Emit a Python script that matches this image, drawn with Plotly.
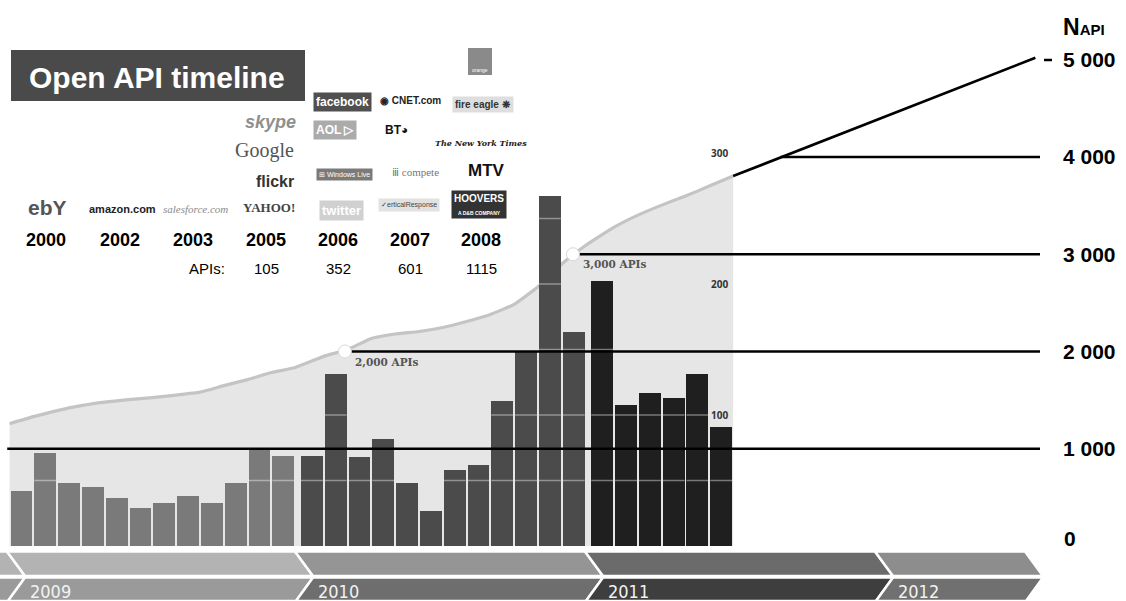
import plotly.graph_objects as go

# ---------------- data ----------------
new_apis_2009 = [42, 71, 48, 45, 37, 29, 33, 38, 33, 48, 75, 69]
new_apis_2010 = [69, 131, 68, 82, 48, 27, 58, 62, 111, 148, 267, 163]
new_apis_2011 = [202, 108, 117, 113, 131, 91]

# cumulative number of APIs at start of Jan 2009 and at the end of every month
cumulative_apis = [1258, 1330, 1392, 1443, 1479, 1505, 1526, 1552, 1582, 1649, 1711, 1784,
                   1835, 1950, 2020, 2134, 2180, 2206, 2247, 2309, 2381, 2485, 2665, 2900,
                   3090, 3278, 3402, 3505, 3598, 3701, 3804]

projection_end_month = 42.6
projection_end_apis = 5020

milestone_values = [1000, 2000, 3000, 4000]
milestone_from_month = [-0.6, 13.59, 23.17, 31.9]
labeled_milestones = [2000, 3000]
labeled_milestone_month = [13.59, 23.17]
labeled_milestone_text = ["2,000 APIs", "3,000 APIs"]

right_tick_values = [1000, 2000, 3000, 4000, 5000]
right_tick_labels = ["1 000", "2 000", "3 000", "4 000", "5 000"]
bar_tick_values = [100, 200, 300]
bar_grid_levels = [50, 100, 150, 200, 250]

history_years = ["2000", "2002", "2003", "2005", "2006", "2007", "2008"]
history_apis = ["", "", "APIs:", "105", "352", "601", "1115"]
timeline_years = ["2009", "2010", "2011", "2012"]

# ---------------- geometry helpers ----------------
W, H = 1126, 601
PLOT_L, PLOT_R, PLOT_T, PLOT_B = 0, 1040, 30, 546
PX_PER_MONTH = 23.8
FIRST_CENTER_PX = 21.5
CUM_PX_PER_UNIT = 0.09725
BAR_PX_PER_UNIT = 1.31

X0 = (PLOT_L - FIRST_CENTER_PX) / PX_PER_MONTH
X_END = (PLOT_R - FIRST_CENTER_PX) / PX_PER_MONTH
CUM_TOP = (PLOT_B - PLOT_T) / CUM_PX_PER_UNIT
BAR_TOP = (PLOT_B - PLOT_T) / BAR_PX_PER_UNIT


def xp(px):
    return (px - PLOT_L) / (PLOT_R - PLOT_L)


def yp(py):
    return (PLOT_B - py) / (PLOT_B - PLOT_T)


new_apis = new_apis_2009 + new_apis_2010 + new_apis_2011
year_group = [0] * len(new_apis_2009) + [1] * len(new_apis_2010) + [2] * len(new_apis_2011)
bar_x = [i + 0.2 * g for i, g in enumerate(year_group)]
BAR_W = 0.92
curve_x = [bar_x[0] - 0.5] + [x + 0.5 for x in bar_x]
bar_palette = ["#7a7a7a", "#4b4b4b", "#1f1f1f"]

fig = go.Figure()

# cumulative area (base axis, drawn under the bars)
fig.add_trace(go.Scatter(x=curve_x, y=cumulative_apis, yaxis="y", mode="lines",
                         line=dict(color="#c4c4c4", width=3.2, shape="spline", smoothing=0.4),
                         fill="tozeroy", fillcolor="#e6e6e6", hoverinfo="skip"))

# monthly bars
fig.add_trace(go.Bar(x=bar_x, y=new_apis, width=BAR_W, yaxis="y2",
                     marker=dict(color=[bar_palette[g] for g in year_group], line=dict(width=0))))

# white grid lines across the bars
gx, gy = [], []
for x, v in zip(bar_x, new_apis):
    for lvl in bar_grid_levels:
        if lvl < v - 2:
            gx += [x - BAR_W / 2, x + BAR_W / 2, None]
            gy += [lvl, lvl, None]
fig.add_trace(go.Scatter(x=gx, y=gy, yaxis="y2", mode="lines",
                         line=dict(color="rgba(255,255,255,0.4)", width=1.5), hoverinfo="skip"))

# milestone lines
for v, x0 in zip(milestone_values, milestone_from_month):
    fig.add_trace(go.Scatter(x=[x0, X_END], y=[v, v], yaxis="y3", mode="lines",
                             line=dict(color="black", width=2.6), hoverinfo="skip"))

# projection line
fig.add_trace(go.Scatter(x=[curve_x[-1], projection_end_month],
                         y=[cumulative_apis[-1], projection_end_apis], yaxis="y3", mode="lines",
                         line=dict(color="black", width=2.6), hoverinfo="skip"))

# milestone markers
fig.add_trace(go.Scatter(x=labeled_milestone_month, y=labeled_milestones, yaxis="y3",
                         mode="markers",
                         marker=dict(size=13, color="white", line=dict(color="#d8d8d8", width=1))))

annotations = []
shapes = []

for m, v, t in zip(labeled_milestone_month, labeled_milestones, labeled_milestone_text):
    annotations.append(dict(x=m, y=v, xref="x", yref="y3", text="<b>" + t + "</b>",
                            showarrow=False, xanchor="left", yanchor="middle", xshift=8, yshift=-10,
                            font=dict(family="DejaVu Serif", size=10.5, color="#555555")))

for v in bar_tick_values:
    annotations.append(dict(x=bar_x[-1], y=v, xref="x", yref="y2", text="<b>%d</b>" % v,
                            showarrow=False, xanchor="center", yanchor="middle", xshift=-2,
                            font=dict(family="Open Sans", size=10, color="#333333")))

annotations.append(dict(x=1, y=0, xref="paper", yref="y", text="<b>0</b>", showarrow=False,
                        xanchor="left", yanchor="middle", xshift=22, yshift=8,
                        font=dict(family="Liberation Sans, Arial", size=21, color="black")))
annotations.append(dict(x=xp(1061), y=yp(27), xref="paper", yref="paper",
                        text="<b>N<span style='font-size:15px'>API</span></b>", showarrow=False,
                        xanchor="left", yanchor="middle",
                        font=dict(family="Liberation Sans, Arial", size=23, color="black")))
shapes.append(dict(type="line", xref="paper", yref="paper", x0=xp(1044), x1=xp(1052),
                   y0=yp(60), y1=yp(60), line=dict(color="black", width=2.5)))

# title box
shapes.append(dict(type="rect", xref="paper", yref="paper", x0=xp(11), x1=xp(305),
                   y0=yp(101), y1=yp(50), fillcolor="#4a4a4a", line=dict(width=0), layer="above"))
annotations.append(dict(x=xp(27), y=yp(77), xref="paper", yref="paper",
                        text="<b>Open API timeline</b>", showarrow=False, xanchor="left",
                        yanchor="middle", font=dict(family="Liberation Sans, Arial", size=30, color="white")))

# history years and API counts
hist_cx = [46, 120, 193, 266, 338, 410, 481]
for cx, yr, n in zip(hist_cx, history_years, history_apis):
    annotations.append(dict(x=xp(cx), y=yp(240), xref="paper", yref="paper", text="<b>" + yr + "</b>",
                            showarrow=False, xanchor="center", yanchor="middle",
                            font=dict(family="Liberation Sans, Arial", size=18, color="black")))
    if n:
        cxx = cx + 14 if n == "APIs:" else cx
        annotations.append(dict(x=xp(cxx), y=yp(268), xref="paper", yref="paper", text=n,
                                showarrow=False, xanchor="center", yanchor="middle",
                                font=dict(family="Liberation Sans, Arial", size=15, color="black")))

# logos rendered as text
logos = [
    ("ebY", 47, 208, dict(family="Liberation Sans", size=21, color="#555555", weight="bold"), None),
    ("amazon.com", 122, 209, dict(family="Liberation Sans Narrow, Liberation Sans", size=11, color="#222222", weight="bold"), None),
    ("<i>salesforce.com</i>", 195, 209, dict(family="Liberation Serif", size=11, color="#8a8a8a"), None),
    ("YAHOO!", 269, 207, dict(family="Liberation Serif", size=13, color="#444444", weight="bold"), None),
    ("flickr", 275, 182, dict(family="Liberation Sans", size=16, color="#333333", weight="bold"), None),
    ("Google", 264, 150, dict(family="Liberation Serif", size=20, color="#555555"), None),
    ("<i>skype</i>", 270, 122, dict(family="Liberation Sans", size=18, color="#8f8f8f", weight="bold"), None),
    ("facebook", 342, 102, dict(family="Liberation Sans", size=12, color="white", weight="bold"), "#505050"),
    ("AOL ▷", 335, 130, dict(family="Liberation Sans", size=12, color="white", weight="bold"), "#ababab"),
    ("⊞ Windows Live", 344, 174, dict(family="Liberation Sans", size=7, color="white"), "#7a7a7a"),
    ("twitter", 341, 211, dict(family="Liberation Sans", size=13, color="white", weight="bold"), "#d0d0d0"),
    ("◉ CNET.com", 410, 100, dict(family="Liberation Sans", size=10, color="#222222", weight="bold"), None),
    ("BT◕", 396, 130, dict(family="Liberation Sans", size=12, color="#111111", weight="bold"), None),
    ("ⅲ compete", 415, 172, dict(family="Liberation Serif", size=11, color="#777777"), None),
    ("✓erticalResponse", 409, 205, dict(family="Liberation Sans", size=7, color="#444444"), "#e2e2e2"),
    ("fire eagle ❋", 483, 104, dict(family="Liberation Sans", size=10, color="#333333", weight="bold"), "#dedede"),
    ("<i>The New York Times</i>", 481, 143, dict(family="DejaVu Serif", size=8, color="#222222", weight="bold"), None),
    ("MTV", 486, 170, dict(family="Liberation Sans", size=17, color="#111111", weight="bold"), None),
    ("HOOVERS<br><span style='font-size:5px'>A D&B COMPANY</span>", 479, 204,
     dict(family="Liberation Sans Narrow, Liberation Sans", size=10, color="white", weight="bold"), "#333333"),
]
for text, cx, cy, font, bg in logos:
    a = dict(x=xp(cx), y=yp(cy), xref="paper", yref="paper", text=text, showarrow=False,
             xanchor="center", yanchor="middle", font=font)
    if bg:
        a.update(bgcolor=bg, borderpad=2)
    annotations.append(a)
shapes.append(dict(type="rect", xref="paper", yref="paper", x0=xp(468), x1=xp(492), y0=yp(75), y1=yp(48),
                   fillcolor="#8a8a8a", line=dict(width=0)))
annotations.append(dict(x=xp(480), y=yp(70), xref="paper", yref="paper", text="orange", showarrow=False,
                        xanchor="center", yanchor="middle",
                        font=dict(family="Liberation Sans", size=5, color="white")))

# timeline band at the bottom
chev = [7, 295, 585, 875, 1025]
top_cols = ["#b3b3b3", "#959595", "#6b6b6b", "#8d8d8d"]
bot_cols = ["#9a9a9a", "#6e6e6e", "#3e3e3e", "#707070"]
TIP = 18
Y_T0, Y_T1, Y_B0, Y_B1 = 551.5, 576, 577.5, 601


def P(px, py):
    return "%.5f,%.5f" % (xp(px), yp(py))


def poly(pts):
    return "M " + " L ".join(P(a, b) for a, b in pts) + " Z"


# sliver left of first chevron
shapes.append(dict(type="path", xref="paper", yref="paper", layer="above",
                   path=poly([(-20, Y_T0), (chev[0], Y_T0), (chev[0] + TIP, Y_T1), (-20, Y_T1)]),
                   fillcolor="#b3b3b3", line=dict(color="white", width=2.5)))
shapes.append(dict(type="path", xref="paper", yref="paper", layer="above",
                   path=poly([(-20, Y_B0), (chev[0] + TIP, Y_B0), (chev[0] + 1, Y_B1), (-20, Y_B1)]),
                   fillcolor="#9a9a9a", line=dict(color="white", width=2.5)))
for i in range(4):
    a, b = chev[i], chev[i + 1]
    shapes.append(dict(type="path", xref="paper", yref="paper", layer="above",
                       path=poly([(a, Y_T0), (b, Y_T0), (b + TIP, Y_T1), (a + TIP, Y_T1)]),
                       fillcolor=top_cols[i], line=dict(color="white", width=2.5)))
    shapes.append(dict(type="path", xref="paper", yref="paper", layer="above",
                       path=poly([(a + TIP, Y_B0), (b + TIP, Y_B0), (b + 1, Y_B1), (a + 1, Y_B1)]),
                       fillcolor=bot_cols[i], line=dict(color="white", width=2.5)))
    annotations.append(dict(x=xp(a + 21), y=yp(591), xref="paper", yref="paper", text=timeline_years[i],
                            showarrow=False, xanchor="left", yanchor="middle",
                            font=dict(family="DejaVu Sans Condensed, Liberation Sans Narrow, Liberation Sans",
                                      size=18, color="#f2f2f2")))

fig.update_layout(
    width=W, height=H, autosize=False,
    margin=dict(l=PLOT_L, r=W - PLOT_R, t=PLOT_T, b=H - PLOT_B, pad=0),
    paper_bgcolor="white", plot_bgcolor="white", showlegend=False, bargap=0,
    xaxis=dict(range=[X0, X_END], visible=False, fixedrange=True),
    yaxis=dict(range=[0, CUM_TOP], side="right", tickvals=right_tick_values, ticktext=right_tick_labels,
               showgrid=False, zeroline=False, showline=False, ticks="", ticklabelstandoff=22,
               tickfont=dict(family="Liberation Sans, Arial", size=21, color="black", weight="bold")),
    yaxis2=dict(range=[0, BAR_TOP], overlaying="y", visible=False),
    yaxis3=dict(range=[0, CUM_TOP], overlaying="y", visible=False),
    annotations=annotations, shapes=shapes,
)

fig.write_html("out.html")
